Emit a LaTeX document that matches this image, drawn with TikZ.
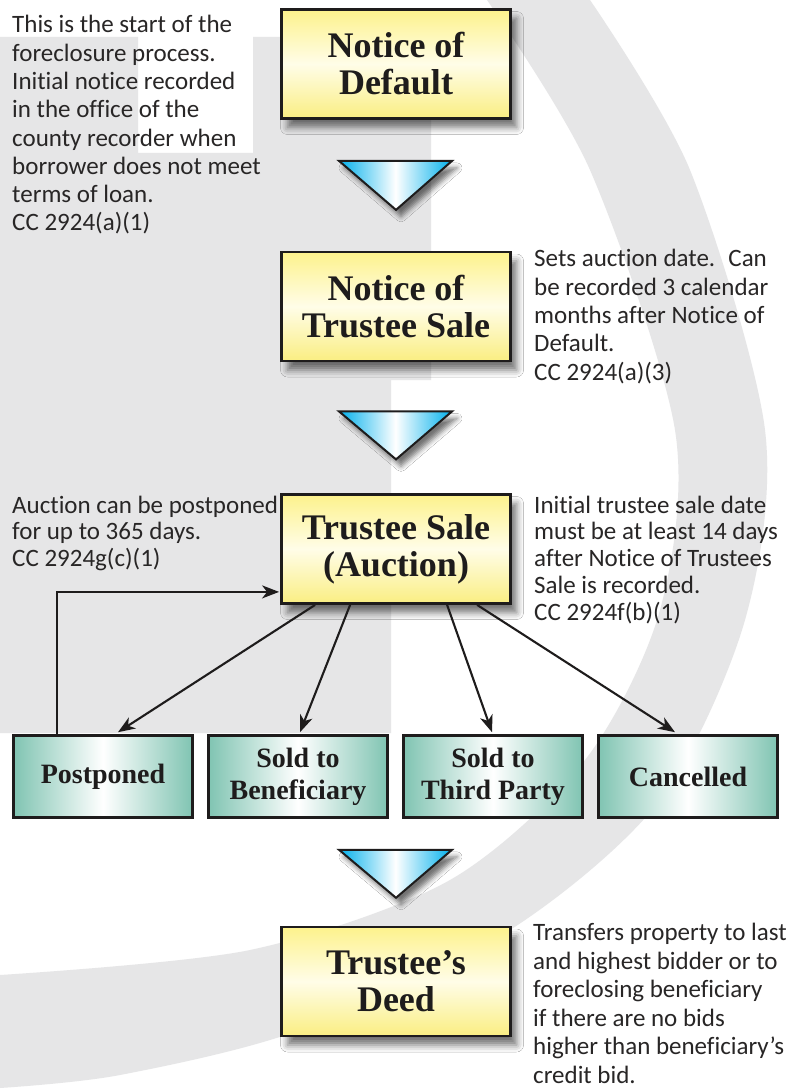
\documentclass[tikz,border=0pt]{standalone}
\usepackage{fontspec}
\setmainfont{Liberation Serif}
\newfontfamily\annot[Ligatures=NoCommon]{Carlito}
\usetikzlibrary{calc,arrows.meta,shadows.blur}
\definecolor{bg}{RGB}{230,230,231}
\definecolor{ytop}{RGB}{253,242,140}
\definecolor{ymid}{RGB}{255,253,232}
\definecolor{ybot}{RGB}{250,238,130}
\definecolor{tealc}{RGB}{128,196,178}
\definecolor{cyanc}{RGB}{0,176,236}
\definecolor{txt}{RGB}{40,38,38}
\definecolor{edge}{RGB}{30,28,28}
\begin{document}
\begin{tikzpicture}[x=1pt,y=-1pt,
  ybox/.style={draw=edge, line width=2.8pt, top color=ytop, bottom color=ybot, middle color=ymid,
    minimum width=229pt, minimum height=109pt, inner sep=0pt, align=center,
    font=\bfseries\fontsize{36}{37}\selectfont, text=edge,
    blur shadow={shadow xshift=6pt, shadow yshift=-9pt, shadow blur radius=7pt, shadow opacity=55}},
  tbox/.style={draw=edge, line width=2.6pt, left color=tealc, right color=tealc, middle color=white,
    minimum width=179pt, minimum height=82pt, inner sep=0pt, align=center,
    font=\bfseries\fontsize{28}{32}\selectfont, text=edge},
  tri/.style={draw=edge, line width=2pt, line join=miter, left color=cyanc, right color=cyanc, middle color=white,
    blur shadow={shadow xshift=5pt, shadow yshift=-7pt, shadow blur radius=5pt, shadow opacity=55}},
  note/.style={anchor=base west, inner sep=0pt, align=left, text=txt},
  link/.style={draw=edge, line width=2.1pt, -{Stealth[length=17pt,width=13pt,inset=5pt]}}
]
\useasboundingbox (0,0) rectangle (796,1091);
\fill[white] (0,0) rectangle (796,1091);
% background logo
\fill[bg] (0,37) -- (138,37) -- (138,153) -- (253,153) -- (253,37) -- (431,37) -- (431,380)
  -- (391,380) -- (391,733) -- (0,733) -- cycle;
\fill[bg] plot[smooth] coordinates {(590,0) (690,170) (765,430) (745,620) (660,800) (510,930) (300,1030) (120,1075) (0,1088)}
  -- plot[smooth] coordinates {(0,975) (250,950) (450,880) (585,760) (660,610) (675,430) (590,170) (487,0)} -- cycle;

% main boxes
\node[ybox] (nod) at (396,64) {Notice of\\Default};
\node[ybox] (nts) at (396,306.5) {Notice of\\Trustee Sale};
\node[ybox] (ts) at (396,549) {Trustee Sale\\(Auction)};
\node[ybox] (td) at (396,981.5) {Trustee’s\\Deed};

% outcome boxes
\node[tbox] (pp) at (103,776.5) {Postponed};
\node[tbox] (sb) at (298,776.5) {Sold to\\Beneficiary};
\node[tbox] (st) at (493,776.5) {Sold to\\Third Party};
\node[tbox] (cn) at (688,776.5) {Cancelled};

% flow triangles
\path[tri] ($(nod.south)+(-57,41)$) -- ($(nod.south)+(56,41)$) -- ($(nod.south)+(0,90)$) -- cycle;
\path[tri] ($(nts.south)+(-57,49)$) -- ($(nts.south)+(56,49)$) -- ($(nts.south)+(0,97)$) -- cycle;
\path[tri] ($(cn.south)+(-349,31)$) -- ($(cn.south)+(-236,31)$) -- ($(cn.south)+(-292,79)$) -- cycle;

% connectors
\draw[link] ($(ts.south west)+(35,0)$) -- ($(pp.north)+(15,-2)$);
\draw[link] ($(ts.south west)+(70,0)$) -- ($(sb.north)+(2,-2)$);
\draw[link] ($(ts.south west)+(167,0)$) -- ($(st.north)+(-1,-2)$);
\draw[link] ($(ts.south west)+(197,0)$) -- ($(cn.north)+(-13,-2)$);
\draw[link] ($(pp.north west)+(45,0)$) |- ($(ts.south west)+(-1,-13)$);

% notes (anchored at the baseline of their last line)
\node[note, font=\annot\fontsize{25}{28.3}\selectfont] (n1) at (12,231) {This is the start of the\\foreclosure process.\\Initial notice recorded\\in the office of the\\county recorder when\\borrower does not meet\\terms of loan.\\CC 2924(a)(1)};
\node[note, font=\annot\fontsize{25}{28.3}\selectfont] (n2) at (534,380) {Sets auction date.~ Can\\be recorded 3 calendar\\months after Notice of\\Default.\\CC 2924(a)(3)};
\node[note, font=\annot\fontsize{25}{26.5}\selectfont] (n3) at (12,566) {Auction can be postponed\\for up to 365 days.\\CC 2924g(c)(1)};
\node[note, font=\annot\fontsize{25}{26.7}\selectfont] (n4) at (534,620) {Initial trustee sale date\\must be at least 14 days\\after Notice of Trustees\\Sale is recorded.\\CC 2924f(b)(1)};
\node[note, font=\annot\fontsize{25}{28.5}\selectfont] (n5) at (533,1083) {Transfers property to last\\and highest bidder or to\\foreclosing beneficiary\\if there are no bids\\higher than beneficiary’s\\credit bid.};
\end{tikzpicture}
\end{document}
